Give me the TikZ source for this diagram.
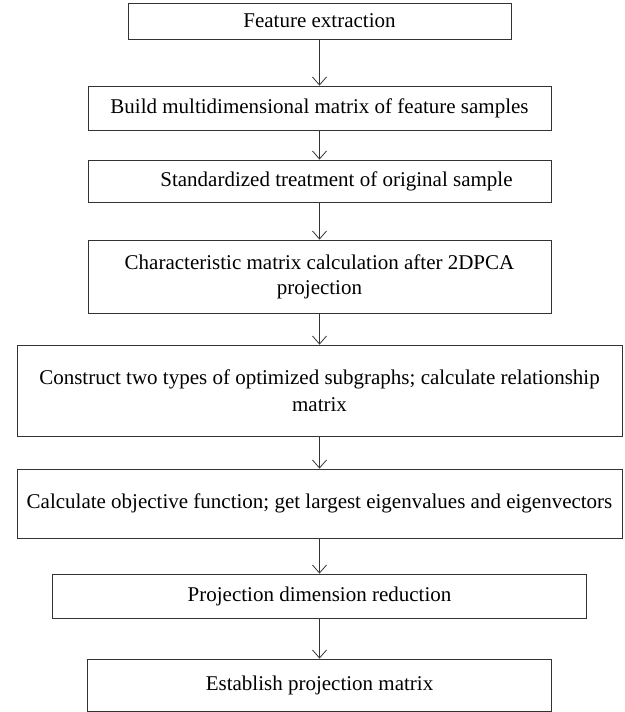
\documentclass[tikz,border=0pt]{standalone}
\usepackage{fontspec}
\setmainfont{Liberation Serif}
\usetikzlibrary{arrows.meta}
\tikzstyle{stepbox}=[draw=black!80, line width=0.8pt, inner sep=0pt, align=center, font=\fontsize{21}{25}\selectfont]
\tikzset{flow/.style={-{Straight Barb[length=8pt,width=14pt]}, line width=0.8pt, draw=black!80}}

\begin{document}
\begin{tikzpicture}[x=1pt,y=-1pt]
  \useasboundingbox (0,0) rectangle (624,712);

  \draw (319.5,21) node[stepbox,minimum width=383pt,minimum height=36pt] (S1) {Feature extraction};
  \draw (319.5,108) node[stepbox,minimum width=463pt,minimum height=44pt] (S2) {Build multidimensional matrix of feature samples};
  \draw (319.5,181) node[stepbox,minimum width=463pt,minimum height=42pt] (S3) {\hspace*{34pt}Standardized treatment of original sample};
  \draw (319.5,276.5) node[stepbox,minimum width=463pt,minimum height=73pt] (S4) {Characteristic matrix calculation after 2DPCA\\projection};
  \draw (319.5,390.5) node[stepbox,minimum width=605pt,minimum height=91pt,font=\fontsize{21}{27}\selectfont] (S5) {Construct two types of optimized subgraphs; calculate relationship\\matrix};
  \draw (319.5,503.5) node[stepbox,minimum width=605pt,minimum height=69pt] (S6) {Calculate objective function; get largest eigenvalues and eigenvectors};
  \draw (319.5,596) node[stepbox,minimum width=534pt,minimum height=44pt] (S7) {Projection dimension reduction};
  \draw (319.5,685) node[stepbox,minimum width=464pt,minimum height=52pt] (S8) {Establish projection matrix};

  %% Flow between steps
  \draw[flow] (S1) -- (S2);
  \draw[flow] (S2) -- (S3);
  \draw[flow] (S3) -- (S4);
  \draw[flow] (S4) -- (S5);
  \draw[flow] (S5) -- (S6);
  \draw[flow] (S6) -- (S7);
  \draw[flow] (S7) -- (S8);
\end{tikzpicture}
\end{document}
